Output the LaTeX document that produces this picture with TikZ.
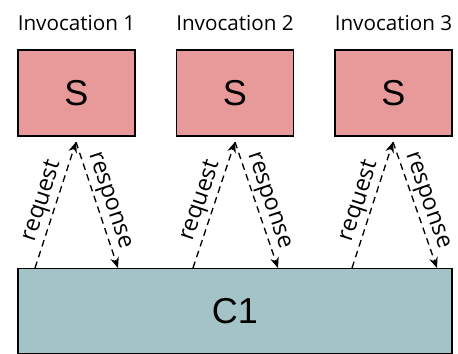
\documentclass[tikz,border=0pt]{standalone}
\usepackage{fontspec}
\setmainfont{Open Sans}
\newfontfamily\arialfont{Liberation Sans}
\usetikzlibrary{positioning,arrows.meta}

\definecolor{sred}{RGB}{232,154,154}
\definecolor{cblue}{RGB}{163,195,199}

\begin{document}
\begin{tikzpicture}[x=0.75pt,y=-0.75pt,
    sbox/.style={draw=black, line width=1pt, fill=sred, minimum width=87.75pt,
      minimum height=64.5pt, font=\arialfont\fontsize{27}{27}\selectfont},
    cbox/.style={draw=black, line width=1pt, fill=cblue, minimum width=325.5pt,
      minimum height=64pt, font=\arialfont\fontsize{27}{27}\selectfont},
    title/.style={anchor=base, font=\fontsize{15.5}{15.5}\selectfont},
    msg/.style={dash pattern=on 5pt off 3.5pt, line width=1pt,
      -{Stealth[length=8pt,width=6.5pt]}},
    lbl/.style={sloped, above, midway, inner sep=1.5pt, font=\fontsize{17.5}{17.5}\selectfont}]
  \useasboundingbox (0,0) rectangle (458,354);

  % Server invocations
  \node[sbox] (s1) at (76.5,93) {S};
  \node[sbox] (s2) at (235,93) {S};
  \node[sbox] (s3) at (393.5,93) {S};

  % Titles
  \node[title] (t1) at (76.5,30) {Invocation 1};
  \node[title] (t2) at (235,30) {Invocation 2};
  \node[title] (t3) at (393.5,30) {Invocation 3};

  % Client
  \node[cbox] (c1) at (235,311) {C1};

  % End points of the messages
  \coordinate (req1) at (35,268);   \coordinate (top1) at (76,142);   \coordinate (res1) at (118,268);
  \coordinate (req2) at (193,268);  \coordinate (top2) at (235,142);  \coordinate (res2) at (278,268);
  \coordinate (req3) at (352,268);  \coordinate (top3) at (393,142);  \coordinate (res3) at (437,268);

  % Messages
  \draw[msg] (req1) -- node[lbl] {request} (top1);
  \draw[msg] (top1) -- node[lbl] {response} (res1);
  \draw[msg] (req2) -- node[lbl] {request} (top2);
  \draw[msg] (top2) -- node[lbl] {response} (res2);
  \draw[msg] (req3) -- node[lbl] {request} (top3);
  \draw[msg] (top3) -- node[lbl] {response} (res3);
\end{tikzpicture}
\end{document}
